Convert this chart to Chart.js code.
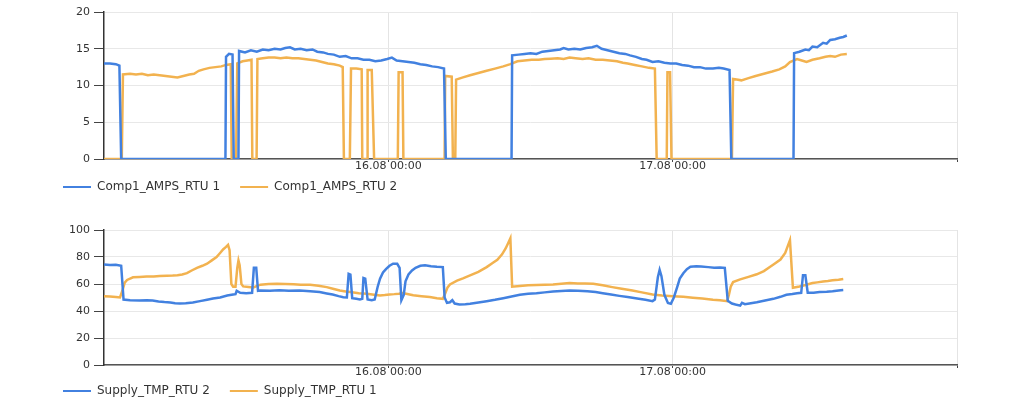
<!DOCTYPE html>
<html>
<head>
<meta charset="utf-8">
<script src="https://cdn.jsdelivr.net/npm/chart.js@4/dist/chart.umd.min.js"></script>
<style>
  html, body { margin: 0; padding: 0; background: #fff; }
  body { width: 1024px; height: 409px; position: relative; overflow: hidden; }
  .box { position: absolute; left: 0; width: 1024px; }
  #topBox { top: 0; height: 205px; }
  #bottomBox { top: 205px; height: 204px; }
</style>
</head>
<body>
<div class="box" id="topBox"><canvas id="ampsChart"></canvas></div>
<div class="box" id="bottomBox"><canvas id="tempChart"></canvas></div>
<script>
// hours since 15.08 00:00
const xTickHours = [24, 48, 72];
const xTickLabels = ['16.08 00:00', '17.08 00:00', ''];

const ampsNames = ['Comp1_AMPS_RTU 1', 'Comp1_AMPS_RTU 2'];
const tempNames = ['Supply_TMP_RTU 2', 'Supply_TMP_RTU 1'];

const ampsHours1 = [0,0.5,1.0,1.3,1.45,10.25,10.3,10.55,10.85,10.95,11.35,11.4,11.9,12.4,12.9,13.4,13.9,14.4,14.9,15.3,15.7,16.1,16.6,17.1,17.6,18.0,18.5,18.9,19.4,19.9,20.4,20.9,21.4,21.9,22.4,22.9,23.4,23.9,24.3,24.7,25.2,25.7,26.2,26.7,27.2,27.7,28.2,28.7,28.85,34.4,34.45,35.0,35.5,36.0,36.5,37.0,37.5,38.0,38.5,38.8,39.2,39.7,40.2,40.7,41.2,41.6,42.0,42.5,43.0,43.5,44.0,44.4,44.9,45.4,45.8,46.3,46.8,47.3,47.8,48.3,48.8,49.3,49.8,50.3,50.8,51.4,51.9,52.3,52.8,52.95,58.2,58.25,58.7,59.2,59.5,59.8,60.2,60.7,61.0,61.3,61.7,62.1,62.4,62.7];
const ampsRtu1 = [13.0,13.0,12.9,12.7,0,0,13.9,14.3,14.2,0,0,14.7,14.5,14.8,14.6,14.9,14.8,15.0,14.9,15.1,15.2,14.9,15.0,14.8,14.9,14.6,14.5,14.3,14.2,13.9,14.0,13.7,13.7,13.5,13.5,13.3,13.4,13.6,13.8,13.4,13.3,13.2,13.1,12.9,12.8,12.6,12.5,12.3,0,0,14.1,14.2,14.3,14.4,14.3,14.6,14.7,14.8,14.9,15.1,14.9,15.0,14.9,15.1,15.2,15.4,15.0,14.8,14.6,14.4,14.3,14.1,13.9,13.6,13.5,13.2,13.3,13.1,13.0,13.0,12.8,12.7,12.5,12.5,12.3,12.3,12.4,12.3,12.1,0,0,14.4,14.6,14.9,14.8,15.3,15.2,15.8,15.7,16.2,16.3,16.5,16.6,16.8];

const ampsHours2 = [0,1.5,1.6,2.2,2.7,3.2,3.7,4.2,4.7,5.2,5.7,6.2,6.7,7.2,7.6,8.0,8.4,8.9,9.4,9.9,10.3,10.7,10.78,11.15,11.25,11.7,12.1,12.45,12.52,12.88,12.95,13.4,13.9,14.4,14.9,15.4,15.9,16.4,16.9,17.4,17.9,18.4,18.9,19.4,19.9,20.15,20.25,20.75,20.85,21.3,21.75,21.8,22.2,22.25,22.6,22.8,24.8,24.87,25.2,25.27,28.75,28.8,29.35,29.45,29.65,29.72,30.3,30.9,31.6,32.3,33.0,33.7,34.3,34.9,35.5,36.1,36.7,37.2,37.7,38.3,38.8,39.3,39.8,40.4,40.9,41.5,42.1,42.7,43.3,43.8,44.2,44.8,45.4,46.0,46.5,46.65,47.5,47.56,47.78,47.9,53.0,53.1,53.8,54.4,55.0,55.7,56.4,57.0,57.5,57.9,58.5,58.9,59.3,59.8,60.4,60.9,61.3,61.7,62.2,62.7];
const ampsRtu2 = [0,0,11.5,11.6,11.5,11.6,11.4,11.5,11.4,11.3,11.2,11.1,11.3,11.5,11.6,12.0,12.2,12.4,12.5,12.6,12.8,12.9,0,0,13.0,13.3,13.4,13.5,0,0,13.6,13.7,13.8,13.8,13.7,13.8,13.7,13.7,13.6,13.5,13.4,13.2,13.0,12.9,12.7,12.5,0,0,12.3,12.3,12.2,0,0,12.1,12.1,0,0,11.8,11.8,0,0,11.3,11.2,0,0,10.8,11.1,11.4,11.7,12.0,12.3,12.6,12.9,13.3,13.4,13.5,13.5,13.6,13.65,13.7,13.6,13.8,13.7,13.6,13.7,13.5,13.5,13.4,13.3,13.1,13.0,12.8,12.6,12.4,12.3,0,0,11.8,11.8,0,0,10.9,10.7,11.0,11.3,11.6,11.9,12.2,12.6,13.2,13.6,13.4,13.2,13.5,13.7,13.9,14.0,13.9,14.2,14.3];

const tempHours2 = [0,0.5,1.0,1.45,1.65,2.2,3.0,3.6,4.1,4.6,5.1,5.6,6.0,6.4,6.9,7.5,8.1,8.7,9.2,9.8,10.4,10.9,11.1,11.2,11.5,12.0,12.5,12.65,12.85,13.0,13.2,14.0,14.8,15.6,16.5,17.4,18.2,18.8,19.3,19.8,20.2,20.5,20.65,20.8,20.95,21.3,21.6,21.8,21.9,22.05,22.25,22.6,22.85,23.1,23.3,23.55,23.8,24.1,24.4,24.75,24.95,25.1,25.3,25.45,25.7,26.0,26.3,26.7,27.1,27.6,28.1,28.6,28.75,28.95,29.2,29.4,29.6,30.0,30.5,30.9,31.6,32.3,33.0,33.7,34.4,35.1,35.8,36.5,37.2,37.9,38.6,39.3,40.0,40.8,41.5,42.1,42.8,43.5,44.2,45.0,45.7,46.3,46.5,46.75,46.9,47.05,47.3,47.6,47.85,48.1,48.4,48.6,48.9,49.2,49.5,50.0,50.4,51.0,51.5,52.0,52.4,52.65,53.0,53.3,53.7,53.85,54.1,54.6,55.1,55.8,56.5,57.1,57.6,58.1,58.5,58.85,59.0,59.2,59.4,59.9,60.4,61.0,61.5,62.0,62.4];
const tempRtu2 = [74.5,74,74.3,73.5,48.5,48,47.8,48,47.8,47,46.6,46.3,45.8,45.5,45.8,46.3,47.3,48.3,49.2,50,51.5,52.2,52.5,55,53.5,53.2,53.5,72,72,55,55.2,55.0,55.3,55,55.1,54.6,54,53,52.2,51,50.2,50,67.5,67,49.5,49,48.5,49,64.5,64,48.5,48,48.5,58,64,68.5,71,73.5,75,75,72,48,52,62,67,70,72,73.5,73.8,73.2,72.8,72.5,50,46,46.5,48,45.5,44.8,45,45.4,46.3,47.3,48.3,49.5,50.8,52,52.8,53.2,53.8,54.5,54.8,55.2,55,54.7,54,53.2,52.2,51.2,50.3,49.3,48.3,47.3,48.5,65,70.5,66,52,46,45.3,50,58.2,64,68,71,72.8,73.1,73,72.5,72,72.3,72.0,47.5,45.5,44.8,44.0,46,45,45.8,46.5,47.8,49,50.5,52,52.6,53.2,53.5,66.5,66.5,53.5,53.5,54,54.2,54.6,55.2,55.5];

const tempHours1 = [0,0.5,1.0,1.35,1.55,1.75,1.95,2.45,3.0,3.6,4.2,4.7,5.3,5.8,6.2,6.6,7.0,7.4,7.85,8.3,8.7,9.1,9.5,9.8,10.05,10.3,10.47,10.6,10.75,10.9,11.1,11.25,11.35,11.45,11.6,11.75,12.2,12.6,13.2,13.9,14.6,15.3,16.0,16.6,17.4,18.1,18.8,19.4,19.9,20.4,20.8,21.5,22.2,22.8,23.3,23.7,24.1,24.5,24.9,25.2,25.6,26.1,26.8,27.5,28.1,28.6,28.8,29.0,29.2,29.8,30.3,30.9,31.6,32.3,32.8,33.2,33.6,33.9,34.1,34.3,34.45,35.1,35.8,36.5,37.2,37.9,38.6,39.3,40.0,40.6,41.3,42.1,42.9,43.7,44.6,45.4,46.3,47.1,48.0,48.9,49.7,50.5,51.4,52.0,52.6,52.75,52.9,53.1,53.7,54.4,55.1,55.7,56.2,56.6,57.1,57.5,57.9,58.15,58.7,59.3,59.8,60.2,60.7,61.1,61.5,62.0,62.4];
const tempRtu1 = [51,50.8,50.3,50,55,61,63,65,65.2,65.5,65.5,66,66.2,66.3,66.5,67,68,70,72,73.5,75,77.5,80,83,85.6,87.5,89,85,60,58,58,72,77.5,74,60,58.2,57.8,57.5,59.5,60,60.2,60,59.8,59.5,59.5,58.7,57.7,56.3,55.2,54.5,54,53.2,52.7,52,51.5,51.8,52.3,52.5,52.8,53.3,52.6,51.6,51,50.3,49.5,49,53,57.5,59.7,62.5,64.2,66.4,69,72.5,75.5,78,82,86.3,90,93.8,58,58.5,59,59.2,59.5,59.7,60.2,60.7,60.4,60.3,60.1,59,57.7,56.5,55.2,53.8,52.2,51.5,51,50.5,49.8,49.2,48.3,48,47.3,52,58,61.4,63.4,65.3,67.2,69.6,72.6,75,78.1,83,92.5,57.2,58.2,59.5,60.7,61.2,61.9,62.2,62.7,63.2,63.7];

const BLUE = '#4281e0';
const ORANGE = '#f2b24f';
const FONT = '"DejaVu Sans", Verdana, sans-serif';

function points(hours, values){
  return hours.map((h, i) => ({ x: h, y: values[i] }));
}

function lineSet(label, hours, values, color){
  return {
    label, data: points(hours, values),
    borderColor: color, backgroundColor: color,
    borderWidth: 2.5, pointRadius: 0, tension: 0, fill: false
  };
}

function makeChart(id, datasets, yMax, yStep, padTop, padBottom, xHeight){
  return new Chart(document.getElementById(id), {
    type: 'line',
    data: { datasets },
    options: {
      responsive: true, maintainAspectRatio: false, animation: false,
      devicePixelRatio: 1,
      layout: { padding: { left: 55, right: 67, top: padTop, bottom: padBottom } },
      plugins: {
        tooltip: { enabled: false },
        legend: {
          position: 'bottom', align: 'start',
          labels: {
            color: '#333', font: { family: FONT, size: 12 },
            usePointStyle: true, pointStyle: 'line', pointStyleWidth: 28,
            boxWidth: 28, padding: 8,
            // thinner legend strokes, a bit more room between the two entries
            generateLabels(chart){
              return Chart.defaults.plugins.legend.labels.generateLabels(chart)
                .map(it => Object.assign(it, { lineWidth: 2, text: it.text + '\u2003' }));
            }
          }
        }
      },
      scales: {
        x: {
          type: 'linear', min: 0, max: 72,
          afterBuildTicks(scale){ scale.ticks = xTickHours.map(v => ({ value: v })); },
          afterFit(scale){ scale.height = xHeight; },
          ticks: {
            autoSkip: false, maxRotation: 0, padding: -2,
            color: '#333', font: { family: FONT, size: 11 },
            callback: (v, i) => xTickLabels[i]
          },
          grid: { color: '#e4e4e4', tickColor: '#444', tickLength: 3 },
          border: { color: '#555', width: 1.5 }
        },
        y: {
          min: 0, max: yMax,
          afterFit(scale){ scale.width = 49; },
          ticks: { stepSize: yStep, padding: 4, color: '#333', font: { family: FONT, size: 11 } },
          grid: { color: '#e8e8e8', tickColor: '#444', tickLength: 10 },
          border: { color: '#333', width: 1.5 }
        }
      }
    }
  });
}

makeChart('ampsChart', [
  lineSet(ampsNames[0], ampsHours1, ampsRtu1, BLUE),
  lineSet(ampsNames[1], ampsHours2, ampsRtu2, ORANGE)
], 20, 5, 12, 2, 14);

makeChart('tempChart', [
  lineSet(tempNames[0], tempHours2, tempRtu2, BLUE),
  lineSet(tempNames[1], tempHours1, tempRtu1, ORANGE)
], 100, 20, 25, 2, 12);
</script>
</body>
</html>
